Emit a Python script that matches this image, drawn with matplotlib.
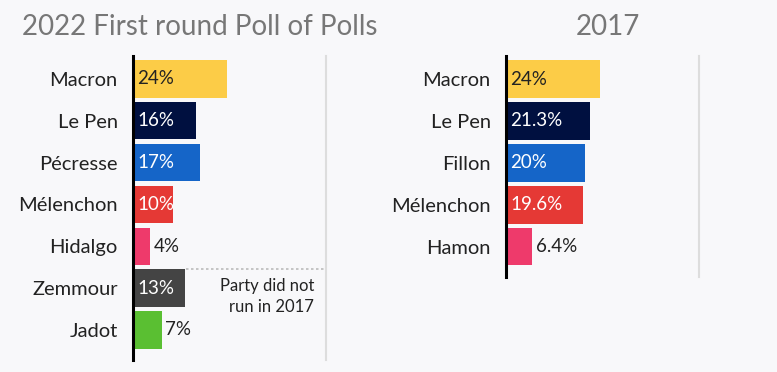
import matplotlib.pyplot as plt

plt.rcParams["font.family"] = ["Lato", "DejaVu Sans"]

BG = "#f8f8fa"

names_2022 = ["Macron", "Le Pen", "Pécresse", "Mélenchon", "Hidalgo", "Zemmour", "Jadot"]
values_2022 = [24, 16, 17, 10, 4, 13, 7]
labels_2022 = ["24%", "16%", "17%", "10%", "4%", "13%", "7%"]
colors_2022 = ["#fccc47", "#001040", "#1565c8", "#e53935", "#ee3a6b", "#444444", "#5abf32"]

names_2017 = ["Macron", "Le Pen", "Fillon", "Mélenchon", "Hamon"]
values_2017 = [24, 21.3, 20, 19.6, 6.4]
labels_2017 = ["24%", "21.3%", "20%", "19.6%", "6.4%"]
colors_2017 = ["#fccc47", "#001040", "#1565c8", "#e53935", "#ee3a6b"]

# bars shorter than this get their label outside
INSIDE_MIN = 9
BAR_H = 0.89


def draw_panel(ax, names, values, labels, colors, n_rows):
    ax.set_facecolor(BG)
    y = list(range(len(names)))
    ax.barh(y, values, height=BAR_H, color=colors, left=0.4)
    ax.set_xlim(0, 50)
    ax.set_ylim(n_rows - 1 + 0.72, -0.55)
    ax.set_yticks(y)
    ax.set_yticklabels(names, fontsize=14.5, color="#222222")
    ax.tick_params(axis="y", length=0, pad=11)
    ax.set_xticks([])
    for s in ("top", "bottom"):
        ax.spines[s].set_visible(False)
    ax.spines["left"].set_linewidth(2.2)
    ax.spines["left"].set_color("black")
    ax.spines["right"].set_linewidth(1.5)
    ax.spines["right"].set_color("#dddddd")
    for yi, v, lab, c in zip(y, values, labels, colors):
        if v < INSIDE_MIN:
            ax.text(v + 1.4, yi, lab, va="center", ha="left", fontsize=13.5, color="#222222")
        else:
            tc = "#222222" if c == "#fccc47" else "white"
            ax.text(1.1, yi, lab, va="center", ha="left", fontsize=13.5, color=tc)


fig = plt.figure(figsize=(7.77, 3.72), dpi=100, facecolor=BG)

ax1 = fig.add_axes([133 / 777, 1 - 360 / 372, 193 / 777, 304 / 372])
draw_panel(ax1, names_2022, values_2022, labels_2022, colors_2022, 7)
zem = names_2022.index("Zemmour")
ax1.plot([values_2022[zem] + 0.8, 50], [zem - BAR_H / 2, zem - BAR_H / 2], ls=(0, (1.5, 1.5)),
         color="#bbbbbb", lw=1.2)
ax1.text(46.9, zem + 0.2, "Party did not\nrun in 2017", ha="right", va="center",
         fontsize=12, color="#222222", linespacing=1.4)

ax2 = fig.add_axes([506 / 777, 1 - 277 / 372, 193 / 777, 221 / 372])
draw_panel(ax2, names_2017, values_2017, labels_2017, colors_2017, 5)

fig.text(200 / 777, 1 - 27 / 372, "2022 First round Poll of Polls", ha="center", va="center",
         fontsize=20, color="#777777")
fig.text(608 / 777, 1 - 27 / 372, "2017", ha="center", va="center",
         fontsize=20, color="#777777")

fig.savefig("out.png", dpi=100, facecolor=BG)
